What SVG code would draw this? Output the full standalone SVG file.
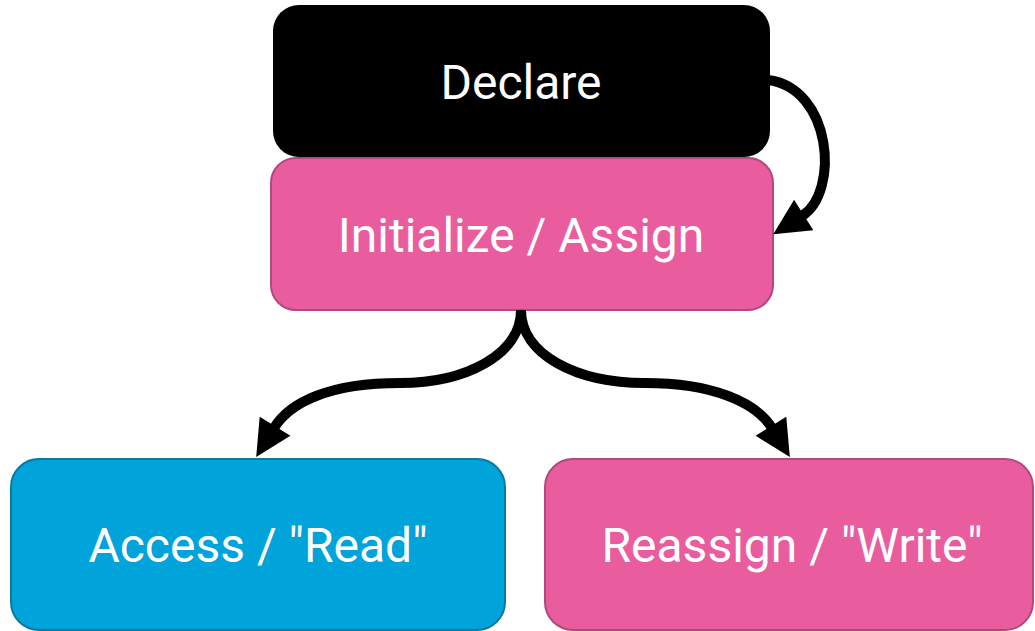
<svg xmlns="http://www.w3.org/2000/svg" width="1035" height="631" viewBox="0 0 1035 631">
<defs>
<style>
.lbl{font-family:Roboto,"Liberation Sans",sans-serif;font-size:48px;fill:#fff;text-anchor:middle}
.pink{fill:#e95d9f;stroke:#b04a7e;stroke-width:2}
.blue{fill:#00a3da;stroke:#0a7aa0;stroke-width:2}
.con{fill:none;stroke:#000;stroke-width:10}
</style>
<marker id="ah" markerUnits="userSpaceOnUse" viewBox="0 0 34 36" refX="0" refY="18" markerWidth="34" markerHeight="36" orient="auto" overflow="visible">
<path d="M-2,0 L34,18 L-2,36 z" fill="#000"/>
</marker>
</defs>
<g id="declare">
<rect x="273" y="5" width="497" height="152" rx="26" fill="#000"/>
<text class="lbl" x="521" y="99">Declare</text>
</g>
<g id="initialize">
<rect class="pink" x="271" y="158" width="502" height="152" rx="25"/>
<text class="lbl" x="521" y="252">Initialize / Assign</text>
</g>
<g id="access">
<rect class="blue" x="11" y="459" width="494" height="171" rx="28"/>
<text class="lbl" x="258" y="562">Access / "Read"</text>
</g>
<g id="reassign">
<rect class="pink" x="545" y="459" width="488" height="171" rx="28"/>
<text class="lbl" x="792" y="562">Reassign / "Write"</text>
</g>
<g id="connectors">
<path class="con" d="M768,80 C832,88 840,192 802,216" marker-end="url(#ah)"/>
<path class="con" d="M521,310 C521,355 465,383 400,383 C330,383 290,402 274,428" marker-end="url(#ah)"/>
<path class="con" d="M521,310 C521,355 577,383 645,383 C712,383 756,402 772,428" marker-end="url(#ah)"/>
</g>
</svg>
